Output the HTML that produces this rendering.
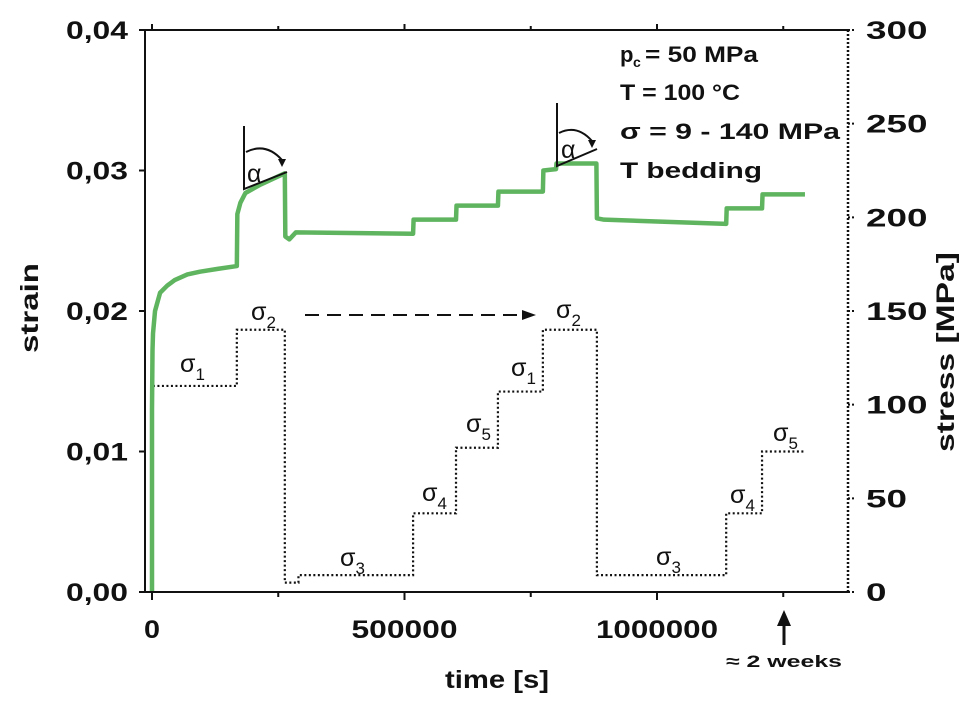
<!DOCTYPE html>
<html><head><meta charset="utf-8"><style>
html,body{margin:0;padding:0;background:#fff;}
svg{display:block;font-family:"Liberation Sans",sans-serif;}
.tk{font-size:25px;font-weight:bold;fill:#111;}
.sg{font-family:"Liberation Sans",sans-serif;font-size:25px;fill:#111;}
.ann{font-size:22px;font-weight:bold;fill:#111;}
</style></head><body>
<svg id="chart" width="969" height="706" viewBox="0 0 969 706" xmlns="http://www.w3.org/2000/svg">
<g id="marks"></g>
<g id="axes"></g>
<g stroke="#111" fill="none" stroke-width="2">
  <path d="M244 126 L244 189 L287 172"/>
  <path d="M246 152 Q266 142 282 160"/>
  <path d="M557 103 L557 166 L597 149"/>
  <path d="M559 133 Q577 124 592 141"/>
  <path d="M305 315 L522 315" stroke-dasharray="14 8"/>
</g>
<polygon points="522,310 536,315 522,320" fill="#111"/>
<polygon points="278,159 286,159 282,167" fill="#111"/>
<polygon points="588,140 596,140 592,148" fill="#111"/>
<text class="sg" x="247" y="182">α</text>
<text class="sg" x="561" y="158">α</text>
<g>
<text class="sg" x="180" y="372">σ<tspan font-size="17" dy="8">1</tspan></text>
<text class="sg" x="251" y="320">σ<tspan font-size="17" dy="8">2</tspan></text>
<text class="sg" x="340" y="566">σ<tspan font-size="17" dy="8">3</tspan></text>
<text class="sg" x="422" y="501">σ<tspan font-size="17" dy="8">4</tspan></text>
<text class="sg" x="466" y="432">σ<tspan font-size="17" dy="8">5</tspan></text>
<text class="sg" x="511" y="376">σ<tspan font-size="17" dy="8">1</tspan></text>
<text class="sg" x="556" y="318">σ<tspan font-size="17" dy="8">2</tspan></text>
<text class="sg" x="656" y="565">σ<tspan font-size="17" dy="8">3</tspan></text>
<text class="sg" x="730" y="503">σ<tspan font-size="17" dy="8">4</tspan></text>
<text class="sg" x="773" y="441">σ<tspan font-size="17" dy="8">5</tspan></text>
</g>
<g>
<text class="ann" x="620" y="62">p</text>
<text x="633" y="67" font-size="14" font-weight="bold" fill="#111">c</text>
<text class="ann" x="645" y="62" textLength="113" lengthAdjust="spacingAndGlyphs">= 50 MPa</text>
<text class="ann" x="620" y="100" textLength="120" lengthAdjust="spacingAndGlyphs">T  = 100 °C</text>
<text class="ann" x="620" y="139" textLength="220" lengthAdjust="spacingAndGlyphs">σ  = 9 - 140 MPa</text>
<text class="ann" x="620" y="178" textLength="142" lengthAdjust="spacingAndGlyphs">T bedding</text>
</g>
<g>
<line x1="784" y1="645" x2="784" y2="620" stroke="#111" stroke-width="3"/>
<polygon points="777,626 791,626 784,610" fill="#111"/>
<text x="726" y="667" font-size="17" font-weight="bold" fill="#111" textLength="116" lengthAdjust="spacingAndGlyphs">≈ 2 weeks</text>
</g>
<text class="tk" x="497" y="688" text-anchor="middle" textLength="104" lengthAdjust="spacingAndGlyphs">time [s]</text>
<text class="tk" transform="translate(38,308) rotate(-90)" text-anchor="middle" textLength="90" lengthAdjust="spacingAndGlyphs">strain</text>
<text class="tk" transform="translate(954,352) rotate(-90)" text-anchor="middle" textLength="200" lengthAdjust="spacingAndGlyphs">stress [MPa]</text>
</svg>
<script>
const xTicks=[0,500000,1000000];
const xTickLabels=["0","500000","1000000"];
const yTicks=[0,0.01,0.02,0.03,0.04];
const yTickLabels=["0,00","0,01","0,02","0,03","0,04"];
const y2Ticks=[0,50,100,150,200,250,300];
const strainTime=[0,0,1000,2000,6000,16000,30000,45000,70000,95000,130000,168000,169000,175000,185000,215000,263000,264000,272000,285000,517000,518000,602000,603000,685000,686000,774000,775000,800000,801000,880000,881000,895000,1137000,1138000,1208000,1209000,1293000];
const strainValue=[0,0.013,0.0172,0.0184,0.0200,0.0213,0.0218,0.0222,0.0226,0.0228,0.0230,0.0232,0.0269,0.0277,0.0284,0.0290,0.0298,0.0253,0.0251,0.0256,0.0255,0.0265,0.0265,0.0275,0.0275,0.0285,0.0285,0.0300,0.0301,0.0305,0.0305,0.0266,0.0265,0.0262,0.0273,0.0273,0.0283,0.0283];
const stepStart=[0,168000,263000,290000,517000,602000,685000,774000,881000,1137000,1208000];
const stepEnd=[168000,263000,290000,517000,602000,685000,774000,881000,1137000,1208000,1293000];
const stepStress=[110,140,5,9,42,77,107,140,9,42,75];

const X0=145,X1=848,Y0=592,Y1=30;
const xs=t=>152+t*505/1e6;
const ys=v=>Y0-(v/0.04)*(Y0-Y1);
const ys2=v=>Y0-(v/300)*(Y0-Y1);
const NS="http://www.w3.org/2000/svg";
const marks=document.getElementById('marks'),axes=document.getElementById('axes');
function mk(tag,attrs,parent){const e=document.createElementNS(NS,tag);for(const k in attrs)e.setAttribute(k,attrs[k]);parent.appendChild(e);return e;}

let d="";
for(let i=0;i<stepStress.length;i++){
  d+=(i===0?"M"+xs(stepStart[i])+" "+ys2(0)+" L":" L")+xs(stepStart[i])+" "+ys2(stepStress[i])+" L"+xs(stepEnd[i])+" "+ys2(stepStress[i]);
}
const sl=mk('path',{d:d,fill:'none',stroke:'#111','stroke-width':2.2,'stroke-dasharray':'2 2.5'},marks);



const pts=strainTime.map((t,i)=>xs(t)+","+ys(strainValue[i])).join(" ");
const gl=mk('polyline',{points:pts,fill:'none',stroke:'#5fb55f','stroke-width':4.5,'stroke-linejoin':'round'},marks);



const fr=mk('path',{d:`M${X1} ${Y1} L${X0} ${Y1} L${X0} ${Y0} L${X1} ${Y0}`,fill:'none',stroke:'#111','stroke-width':2},axes);


const ra=mk('line',{x1:X1,y1:Y1,x2:X1,y2:Y0,stroke:'#111','stroke-width':2.5,'stroke-dasharray':'2 2'},axes);



const xLens=[16,106,122];
xTicks.forEach((t,i)=>{
  mk('line',{x1:xs(t),y1:Y0,x2:xs(t),y2:Y0+8,stroke:'#111','stroke-width':2},axes);
  mk('line',{x1:xs(t),y1:Y1,x2:xs(t),y2:Y1-6,stroke:'#111','stroke-width':2},axes);
  const tx=mk('text',{x:xs(t),y:Y0+46,'text-anchor':'middle',class:'tk',textLength:xLens[i],lengthAdjust:'spacingAndGlyphs'},axes);
  tx.textContent=xTickLabels[i];
  
  
});
[250000,750000,1250000].forEach(t=>{
  mk('line',{x1:xs(t),y1:Y0,x2:xs(t),y2:Y0+5,stroke:'#111','stroke-width':2},axes);
  mk('line',{x1:xs(t),y1:Y1,x2:xs(t),y2:Y1-4,stroke:'#111','stroke-width':2},axes);
});
yTicks.forEach((v,i)=>{
  mk('line',{x1:X0-6,y1:ys(v),x2:X0,y2:ys(v),stroke:'#111','stroke-width':2},axes);
  const tx=mk('text',{x:128,y:ys(v)+9,'text-anchor':'end',class:'tk',textLength:62,lengthAdjust:'spacingAndGlyphs'},axes);
  tx.textContent=yTickLabels[i];
  
  
});
y2Ticks.forEach(v=>{
  mk('line',{x1:X1,y1:ys2(v),x2:X1+6,y2:ys2(v),stroke:'#111','stroke-width':2,'stroke-dasharray':'2 2'},axes);
  const s=String(v);
  const tx=mk('text',{x:866,y:ys2(v)+9,class:'tk',textLength:s.length*20.5,lengthAdjust:'spacingAndGlyphs'},axes);
  tx.textContent=s;
  
  
});
</script>
</body></html>
